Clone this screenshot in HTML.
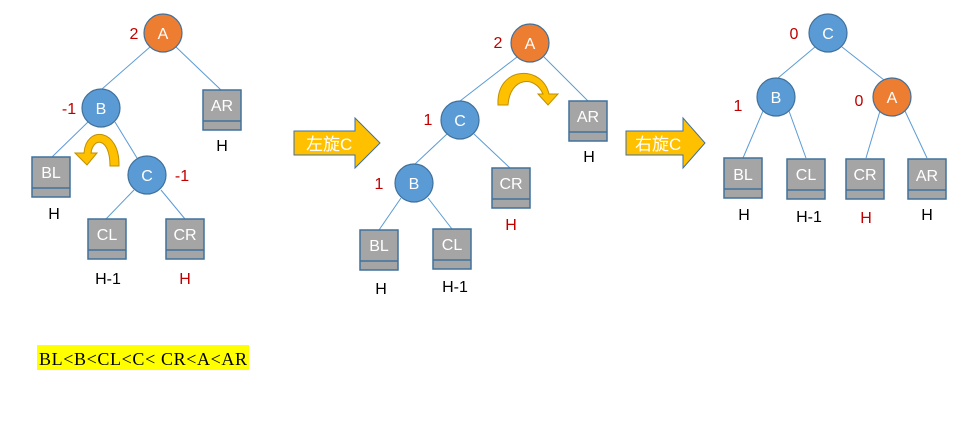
<!DOCTYPE html>
<html><head><meta charset="utf-8"><style>
html,body{margin:0;padding:0;background:#fff;width:968px;height:422px;overflow:hidden}
svg{display:block}
.t{font-family:"Liberation Sans","Noto Sans CJK SC",sans-serif}
</style></head><body>
<svg width="968" height="422" viewBox="0 0 968 422" xmlns="http://www.w3.org/2000/svg" class="t">
<defs>
<g id="box"><rect x="0" y="0" width="38" height="40" fill="#a5a5a5" stroke="#41719c" stroke-width="1.5"/><line x1="0" y1="31" x2="38" y2="31" stroke="#41719c" stroke-width="1.5"/></g>
</defs>
<g stroke="#5b9bd5" stroke-width="1" fill="none">
<line x1="150" y1="47" x2="102" y2="89"/><line x1="176" y1="47" x2="221" y2="90"/>
<line x1="88" y1="122" x2="52" y2="157"/><line x1="115" y1="122" x2="137" y2="158"/>
<line x1="134" y1="190" x2="106" y2="219"/><line x1="161" y1="190" x2="185" y2="219"/>
<line x1="517" y1="57" x2="460" y2="101"/><line x1="544" y1="57" x2="588" y2="101"/>
<line x1="447" y1="134" x2="414" y2="165"/><line x1="474" y1="134" x2="510" y2="168"/>
<line x1="401" y1="198" x2="379" y2="230"/><line x1="428" y1="198" x2="452" y2="229"/>
<line x1="815" y1="47" x2="778" y2="78"/><line x1="842" y1="47" x2="884" y2="80"/>
<line x1="763" y1="111" x2="743" y2="158"/><line x1="789" y1="111" x2="806" y2="158"/>
<line x1="880" y1="111" x2="866" y2="158"/><line x1="905" y1="111" x2="927" y2="158"/>
</g>
<g stroke="#41719c" stroke-width="1.2">
<circle cx="163" cy="33" r="19" fill="#ed7d31"/>
<circle cx="101" cy="108" r="19" fill="#5b9bd5"/>
<circle cx="147" cy="175" r="19" fill="#5b9bd5"/>
<circle cx="530" cy="43" r="19" fill="#ed7d31"/>
<circle cx="460" cy="120" r="19" fill="#5b9bd5"/>
<circle cx="414" cy="183" r="19" fill="#5b9bd5"/>
<circle cx="828" cy="33" r="19" fill="#5b9bd5"/>
<circle cx="776" cy="97" r="19" fill="#5b9bd5"/>
<circle cx="892" cy="97" r="19" fill="#ed7d31"/>
</g>
<use href="#box" x="32" y="157"/><use href="#box" x="203" y="90"/>
<use href="#box" x="88" y="219"/><use href="#box" x="166" y="219"/>
<use href="#box" x="492" y="168"/><use href="#box" x="569" y="101"/>
<use href="#box" x="360" y="230"/><use href="#box" x="433" y="229"/>
<use href="#box" x="724" y="158"/><use href="#box" x="787" y="159"/>
<use href="#box" x="846" y="159"/><use href="#box" x="908" y="159"/>
<g fill="#fff" font-size="16" text-anchor="middle">
<text x="163" y="39">A</text><text x="101" y="114">B</text><text x="147" y="181">C</text>
<text x="530" y="49">A</text><text x="460" y="126">C</text><text x="414" y="189">B</text>
<text x="828" y="39">C</text><text x="776" y="103">B</text><text x="892" y="103">A</text>
<text x="51" y="178">BL</text><text x="222" y="111">AR</text><text x="107" y="240">CL</text><text x="185" y="240">CR</text>
<text x="511" y="189">CR</text><text x="588" y="122">AR</text><text x="379" y="251">BL</text><text x="452" y="250">CL</text>
<text x="743" y="180">BL</text><text x="806" y="180">CL</text><text x="865" y="180">CR</text><text x="927" y="181">AR</text>
</g>
<g fill="#c00000" font-size="16" text-anchor="middle">
<text x="134" y="39">2</text><text x="69" y="114">-1</text><text x="182" y="181">-1</text>
<text x="498" y="48">2</text><text x="428" y="125">1</text><text x="379" y="189">1</text>
<text x="794" y="39">0</text><text x="738" y="111">1</text><text x="859" y="106">0</text>
</g>
<g font-size="16" text-anchor="middle" fill="#000">
<text x="54" y="219">H</text><text x="222" y="151">H</text><text x="108" y="284">H-1</text><text x="185" y="284" fill="#c00000">H</text>
<text x="381" y="294">H</text><text x="455" y="292">H-1</text><text x="511" y="230" fill="#c00000">H</text><text x="589" y="162">H</text>
<text x="744" y="220">H</text><text x="809" y="222">H-1</text><text x="866" y="223" fill="#c00000">H</text><text x="927" y="220">H</text>
</g>
<path d="M119,166 C120,128 86,125 84,153 L75,153 L87,165 L97,153 L91,153 C93,137 110,137 110,166 Z" fill="#ffc000" stroke="#bf9000" stroke-width="1"/>
<path d="M498,105 C496,66 542,64 549,94 L558,94 L548,105 L538,94 L543,94 C535,75 510,77 508,105 Z" fill="#ffc000" stroke="#bf9000" stroke-width="1"/>
<path d="M294,131 L355,131 L355,118 L380,143 L355,168 L355,155 L294,155 Z" fill="#ffc000" stroke="#41719c" stroke-width="1"/>
<text x="306" y="150" fill="#fff" font-size="17">左旋C</text>
<path d="M626,131 L683,131 L683,118 L705,143 L683,168 L683,155 L626,155 Z" fill="#ffc000" stroke="#41719c" stroke-width="1"/>
<text x="635" y="150" fill="#fff" font-size="17">右旋C</text>
<rect x="37" y="345" width="212" height="25" fill="#ffff00"/>
<text x="39" y="365" font-family="Liberation Serif,serif" font-size="18" fill="#000" textLength="208">BL&lt;B&lt;CL&lt;C&lt; CR&lt;A&lt;AR</text>
</svg>
</body></html>
